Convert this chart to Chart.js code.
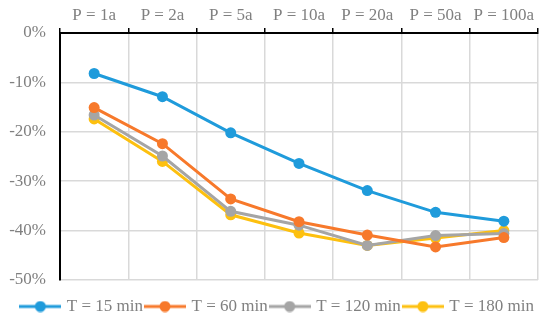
<!DOCTYPE html>
<html>
<head>
<meta charset="utf-8">
<script src="https://cdn.jsdelivr.net/npm/chart.js@4"></script>
<style>
  html, body { margin: 0; padding: 0; background: #fff; }
  #wrap { width: 550px; height: 322px; }
</style>
</head>
<body>
<div id="wrap"><canvas id="chart"></canvas></div>
<script>
// Return periods along the top axis
const periods = ['P = 1a', 'P = 2a', 'P = 5a', 'P = 10a', 'P = 20a', 'P = 50a', 'P = 100a'];

// Relative change (%) for each duration
const t15 = [-8.2, -12.9, -20.2, -26.4, -31.9, -36.3, -38.1];
const t60 = [-15.1, -22.4, -33.6, -38.2, -40.9, -43.3, -41.4];
const t120 = [-16.6, -24.9, -36.1, -38.9, -43.0, -41.0, -40.6];
const t180 = [-17.4, -26.0, -36.8, -40.5, -43.0, -41.5, -40.0];

const seriesNames = ['T = 15 min', 'T = 60 min', 'T = 120 min', 'T = 180 min'];
const seriesColors = ['#1f9bdb', '#f7792b', '#a5a5a5', '#fdc00f'];

const labelColor = '#808080';
const gridColor = '#d9d9d9';
const fontFamily = '"Liberation Serif", "Times New Roman", serif';

// legend marker: short line with a dot in the middle
function legendMarker(color) {
  const c = document.createElement('canvas');
  c.width = 42;
  c.height = 12;
  const ctx = c.getContext('2d');
  ctx.strokeStyle = color;
  ctx.lineWidth = 3;
  ctx.beginPath();
  ctx.moveTo(0, 6);
  ctx.lineTo(42, 6);
  ctx.stroke();
  ctx.fillStyle = color;
  ctx.beginPath();
  ctx.arc(21, 6, 5.5, 0, Math.PI * 2);
  ctx.fill();
  return c;
}

const markers = seriesColors.map(legendMarker);

// give the legend a fixed height and push its row down a bit
const legendSpacing = {
  id: 'legendSpacing',
  beforeInit(chart) {
    const fit = chart.legend.fit;
    chart.legend.fit = function () {
      fit.bind(chart.legend)();
      this.height = 42;
    };
  },
  afterLayout(chart) {
    chart.legend.top += 14;
    chart.legend.bottom += 14;
  }
};

const datasets = [t15, t60, t120, t180].map((vals, i) => ({
  label: seriesNames[i],
  data: vals,
  borderColor: seriesColors[i],
  backgroundColor: seriesColors[i],
  borderWidth: 3,
  pointRadius: 5.5,
  pointBorderWidth: 0,
  tension: 0,
  fill: false
}));

new Chart(document.getElementById('chart'), {
  type: 'line',
  data: { labels: periods, datasets: datasets },
  plugins: [legendSpacing],
  options: {
    responsive: true,
    maintainAspectRatio: false,
    animation: false,
    layout: { padding: { left: 0, right: 12, top: 0, bottom: 0 } },
    plugins: {
      tooltip: { enabled: false },
      legend: {
        position: 'bottom',
        align: 'end',
        labels: {
          usePointStyle: true,
          pointStyleWidth: 36,
          padding: 4,
          color: labelColor,
          font: { family: fontFamily, size: 17 },
          generateLabels: (chart) => {
            const items = Chart.defaults.plugins.legend.labels.generateLabels(chart);
            items.forEach((it, i) => { it.pointStyle = markers[i]; });
            return items;
          }
        }
      }
    },
    scales: {
      x: {
        position: 'top',
        offset: true,
        grid: {
          offset: true,
          color: gridColor,
          lineWidth: 1.5,
          tickColor: '#000',
          tickWidth: 1.5,
          tickLength: 5
        },
        border: { color: '#000', width: 2, z: 1 },
        ticks: {
          color: labelColor,
          font: { family: fontFamily, size: 17 },
          maxRotation: 0,
          padding: 2
        },
        afterFit: (axis) => { axis.height = 33; }
      },
      y: {
        min: -50,
        max: 0,
        grid: {
          color: (ctx) => (ctx.tick && ctx.tick.value === 0 ? 'rgba(0,0,0,0)' : gridColor),
          lineWidth: 1.5,
          drawTicks: false
        },
        border: { color: '#000', width: 2 },
        ticks: {
          stepSize: 10,
          color: labelColor,
          font: { family: fontFamily, size: 17 },
          padding: 14,
          callback: (v) => v + '%'
        },
        afterFit: (axis) => { axis.width = 60; }
      }
    }
  }
});
</script>
</body>
</html>
